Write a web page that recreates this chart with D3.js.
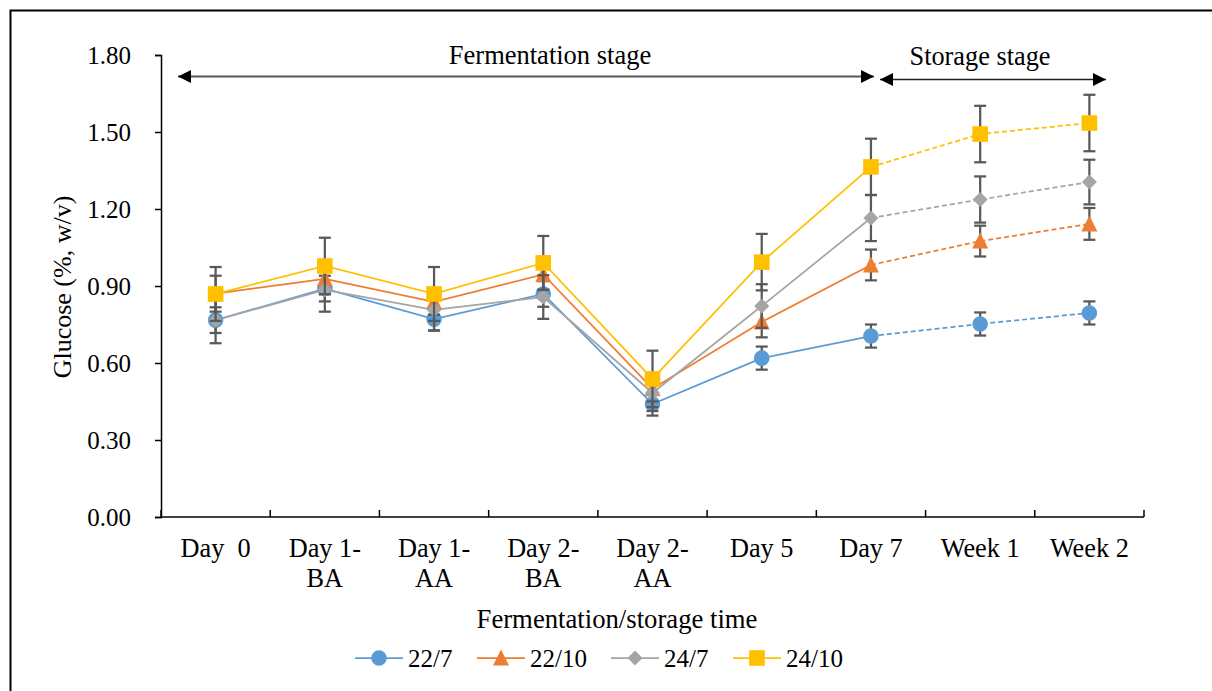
<!DOCTYPE html>
<html>
<head>
<meta charset="utf-8">
<script src="https://cdn.jsdelivr.net/npm/d3@7"></script>
<style>
  html, body { margin: 0; padding: 0; background: #fff; }
  svg { display: block; }
  text { font-family: "Liberation Serif", "Times New Roman", serif; fill: #000; }
</style>
</head>
<body>
<svg id="chart" width="1212" height="691"></svg>
<script>
// Sampling points (two-line labels split on "\n")
const categories = ["Day  0", "Day 1-\nBA", "Day 1-\nAA", "Day 2-\nBA", "Day 2-\nAA", "Day 5", "Day 7", "Week 1", "Week 2"];
const yTicks = [0, 0.3, 0.6, 0.9, 1.2, 1.5, 1.8];
const seriesNames = ["22/7", "22/10", "24/7", "24/10"];

// Glucose (%, w/v) means and standard deviations per treatment
const glucose_22_7  = [0.767, 0.890, 0.771, 0.869, 0.440, 0.619, 0.705, 0.752, 0.795];
const err_22_7      = [0.050, 0.050, 0.045, 0.050, 0.045, 0.045, 0.045, 0.045, 0.045];
const glucose_22_10 = [0.870, 0.928, 0.838, 0.945, 0.500, 0.760, 0.982, 1.075, 1.142];
const err_22_10     = [0.070, 0.060, 0.050, 0.060, 0.050, 0.060, 0.060, 0.060, 0.062];
const glucose_24_7  = [0.767, 0.885, 0.807, 0.857, 0.483, 0.822, 1.165, 1.237, 1.305];
const err_24_7      = [0.090, 0.085, 0.080, 0.085, 0.070, 0.085, 0.090, 0.090, 0.087];
const glucose_24_10 = [0.869, 0.978, 0.869, 0.990, 0.538, 0.993, 1.364, 1.492, 1.535];
const err_24_10     = [0.105, 0.110, 0.105, 0.105, 0.110, 0.110, 0.110, 0.110, 0.110];

// Index of the last fermentation point; storage segments are dashed
const lastFermentIndex = 6;

const colors = ["#5B9BD5", "#ED7D31", "#A5A5A5", "#FFC000"];
const shapes = ["circle", "triangle", "diamond", "square"];

const series = seriesNames.map((name, i) => ({
  name,
  values: [glucose_22_7, glucose_22_10, glucose_24_7, glucose_24_10][i],
  errors: [err_22_7, err_22_10, err_24_7, err_24_10][i],
  color: colors[i],
  shape: shapes[i]
}));

const svg = d3.select("#chart");

// Outer frame
svg.append("path")
  .attr("d", "M10.5,691 V10.5 H1212")
  .attr("fill", "none").attr("stroke", "#000").attr("stroke-width", 2);

const x = d3.scaleBand().domain(categories).range([161, 1144]).padding(0);
const y = d3.scaleLinear().domain([0, 1.8]).range([517, 55]);
const cx = c => x(c) + x.bandwidth() / 2;

// Y axis
const yAxis = svg.append("g")
  .attr("transform", "translate(161,0)")
  .call(d3.axisLeft(y).tickValues(yTicks).tickFormat(d3.format(".2f")).tickSize(6).tickPadding(24));
yAxis.select(".domain").attr("stroke", "#000").attr("stroke-width", 1.5);
yAxis.selectAll(".tick line").attr("stroke", "#000").attr("stroke-width", 1.5);
yAxis.selectAll(".tick text")
  .attr("font-family", "Liberation Serif, serif").attr("font-size", 25).attr("fill", "#000");

// X axis line with boundary ticks pointing up
svg.append("line")
  .attr("x1", 161).attr("x2", 1144).attr("y1", y(0)).attr("y2", y(0))
  .attr("stroke", "#000").attr("stroke-width", 1.5);
const bounds = categories.map(c => x(c)).concat([x(categories[categories.length - 1]) + x.bandwidth()]);
svg.append("g").selectAll("line").data(bounds).join("line")
  .attr("x1", d => d).attr("x2", d => d)
  .attr("y1", y(0)).attr("y2", y(0) - 7)
  .attr("stroke", "#000").attr("stroke-width", 1.5);

// X tick labels (wrapped)
const xl = svg.append("g").selectAll("text").data(categories).join("text")
  .attr("x", d => cx(d)).attr("y", 557)
  .attr("text-anchor", "middle").attr("font-size", 26.3)
  .style("white-space", "pre").attr("xml:space", "preserve");
xl.each(function(d) {
  const lines = d.split("\n");
  d3.select(this).selectAll("tspan").data(lines).join("tspan")
    .attr("x", cx(d)).attr("dy", (l, i) => i === 0 ? 0 : 30).text(l => l);
});

// Axis titles
svg.append("text")
  .attr("transform", "translate(71,287) rotate(-90)")
  .attr("text-anchor", "middle").attr("font-size", 26)
  .text("Glucose (%, w/v)");
svg.append("text")
  .attr("x", 617).attr("y", 628)
  .attr("text-anchor", "middle").attr("font-size", 26.7)
  .text("Fermentation/storage time");

// Stage annotations with double-headed arrows
const defs = svg.append("defs");
function arrowMarker(id, color) {
  defs.append("marker").attr("id", id)
    .attr("viewBox", "0 0 10 10").attr("refX", 10).attr("refY", 5)
    .attr("markerUnits", "userSpaceOnUse").attr("markerWidth", 14).attr("markerHeight", 13)
    .attr("orient", "auto-start-reverse")
    .append("path").attr("d", "M0,0 L10,5 L0,10 Z").attr("fill", color);
}
arrowMarker("arrowBlack", "#000");

svg.append("line")
  .attr("x1", 178).attr("x2", 874).attr("y1", 76.5).attr("y2", 76.5)
  .attr("stroke", "#595959").attr("stroke-width", 2)
  .attr("marker-start", "url(#arrowBlack)").attr("marker-end", "url(#arrowBlack)");
svg.append("text").attr("x", 550).attr("y", 64)
  .attr("text-anchor", "middle").attr("font-size", 26.5).text("Fermentation stage");

svg.append("line")
  .attr("x1", 880).attr("x2", 1106).attr("y1", 79.5).attr("y2", 79.5)
  .attr("stroke", "#222").attr("stroke-width", 1.5)
  .attr("marker-start", "url(#arrowBlack)").attr("marker-end", "url(#arrowBlack)");
svg.append("text").attr("x", 980).attr("y", 65)
  .attr("text-anchor", "middle").attr("font-size", 26.3).text("Storage stage");

// Marker shape path generator
function shapePath(shape) {
  switch (shape) {
    case "circle": return d3.symbol(d3.symbolCircle, Math.PI * 7.8 * 7.8)();
    case "square": return "M-7.8,-7.8H7.8V7.8H-7.8Z";
    case "triangle": return "M0,-8.5L8,7.5H-8Z";
    case "diamond": return "M0,-7.5L7.5,0L0,7.5L-7.5,0Z";
  }
}

const line = d3.line().x((d, i) => cx(categories[d.i])).y(d => y(d.v));

// Connecting lines: solid through fermentation, dashed in storage
series.forEach(s => {
  const pts = s.values.map((v, i) => ({ v, i }));
  svg.append("path")
    .attr("d", line(pts.slice(0, lastFermentIndex + 1)))
    .attr("fill", "none").attr("stroke", s.color).attr("stroke-width", 1.75);
  svg.append("path")
    .attr("d", line(pts.slice(lastFermentIndex)))
    .attr("fill", "none").attr("stroke", s.color).attr("stroke-width", 1.75)
    .attr("stroke-dasharray", "5,3");
});

// Error bars and markers
series.forEach(s => {
  const g = svg.append("g");
  s.values.forEach((v, i) => {
    const px = cx(categories[i]);
    const top = y(v + s.errors[i]), bot = y(v - s.errors[i]);
    g.append("line").attr("x1", px).attr("x2", px).attr("y1", top).attr("y2", bot)
      .attr("stroke", "#595959").attr("stroke-width", 2.25);
    [top, bot].forEach(yy => g.append("line")
      .attr("x1", px - 6).attr("x2", px + 6).attr("y1", yy).attr("y2", yy)
      .attr("stroke", "#595959").attr("stroke-width", 2.25));
  });
  g.selectAll("path.mark").data(s.values).join("path")
    .attr("class", "mark")
    .attr("transform", (v, i) => `translate(${cx(categories[i])},${y(v)})`)
    .attr("d", shapePath(s.shape))
    .attr("fill", s.color);
});

// Legend
const legendX = [355, 477, 611, 733];
const legend = svg.append("g").selectAll("g").data(series).join("g")
  .attr("transform", (d, i) => `translate(${legendX[i]},658)`);
legend.append("line").attr("x1", 0).attr("x2", 48).attr("y1", 0).attr("y2", 0)
  .attr("stroke", d => d.color).attr("stroke-width", 1.75);
legend.append("path").attr("transform", "translate(24,0)")
  .attr("d", d => shapePath(d.shape)).attr("fill", d => d.color);
legend.append("text").attr("x", 53).attr("y", 9)
  .attr("font-size", 25).text(d => d.name);
</script>
</body>
</html>
